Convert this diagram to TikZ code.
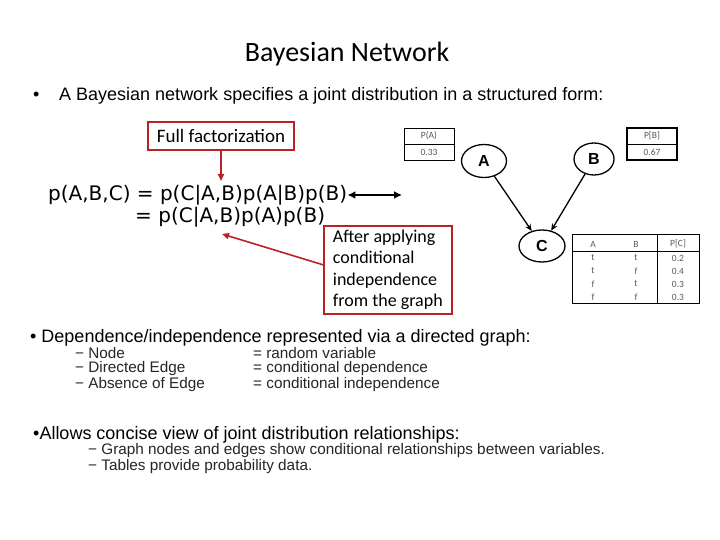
\documentclass[tikz,border=0pt]{standalone}
\usepackage{fontspec}
\setmainfont{Liberation Sans}
\newfontfamily\carl{Carlito}
\newfontfamily\verd{DejaVu Sans}
\usetikzlibrary{arrows.meta,shapes.geometric}
\definecolor{boxred}{RGB}{185,35,40}
\definecolor{tabgray}{RGB}{90,90,90}
\begin{document}
\begin{tikzpicture}[x=1pt,y=-1pt,
  redbox/.style={draw=boxred,line width=1.6pt,inner sep=0pt,font=\carl\fontsize{19}{21.5}\selectfont},
  redarrow/.style={draw=boxred,line width=1.6pt,-{Triangle[length=7pt,width=6pt]}},
  eqtxt/.style={anchor=west,inner sep=0pt,font=\verd\fontsize{20}{22}\selectfont},
  gnode/.style={ellipse,draw,line width=1.3pt,inner sep=0pt,font=\bfseries\fontsize{16}{18}\selectfont},
  garrow/.style={line width=1.3pt,-{Stealth[length=7pt,width=6pt]}},
  tab/.style={draw=black,line width=0.8pt},
  tabtxt/.style={inner sep=0pt,text=tabgray,font=\carl\fontsize{9.5}{10}\selectfont},
  btxt/.style={anchor=west,inner sep=0pt,font=\fontsize{18}{20}\selectfont},
  subtxt/.style={anchor=west,inner sep=0pt,text=black!85,font=\fontsize{15.3}{16}\selectfont}
]
\useasboundingbox (0,0) rectangle (720,540);
\fill[white] (0,0) rectangle (720,540);

% title
\node[inner sep=0pt,font=\carl\fontsize{28}{30}\selectfont] (title) at (347,54) {Bayesian Network};

% first bullet
\node[btxt] (b1dot) at (33,96) {•};
\node[btxt] (b1) at (59,96) {A Bayesian network specifies a joint distribution in a structured form:};

% full factorization
\node[redbox,minimum width=146pt,minimum height=28pt] (ff) at (221,136) {Full factorization};
\coordinate (ffend) at (221,181);
\draw[redarrow] (ff.south) -- (ffend);

% equations
\node[eqtxt] (eq1) at (48,195) {p(A,B,C) = p(C|A,B)p(A|B)p(B)};
\node[eqtxt] (eq2) at (135,217) {= p(C|A,B)p(A)p(B)};
\coordinate (dblend) at (402,195);
\draw[line width=2.6pt,{Latex[length=8pt,width=8pt]}-{Latex[length=8pt,width=8pt]}] (eq1.east) -- (dblend);

% after applying
\node[redbox,anchor=north west,minimum width=128pt,minimum height=88pt,align=left,inner xsep=5pt,font=\carl\fontsize{18}{21.5}\selectfont] (after) at (323,225)
  {After applying\\conditional\\independence\\from the graph};
\coordinate (aftend) at (222,234);
\draw[redarrow] ([yshift=5pt]after.west) -- (aftend);

% P(A) table
\draw[tab] (404,128) rectangle (454,160);
\draw[tab] (404,144) -- (454,144);
\node[tabtxt] (pa) at (429,136) {P(A)};
\node[tabtxt] (pav) at (429,152) {0.33};

% P(B) table
\draw[tab,line width=1.1pt] (627,128) rectangle (677,160);
\draw[tab] (627,144) -- (677,144);
\node[tabtxt] (pb) at (652,136) {P[B]};
\node[tabtxt] (pbv) at (652,152) {0.67};

% graph
\node[gnode,minimum width=45pt,minimum height=33pt] (A) at (484,161) {A};
\node[gnode,minimum width=40pt,minimum height=32pt] (B) at (594,159) {B};
\node[gnode,minimum width=46pt,minimum height=32pt] (C) at (542,246) {C};
\draw[garrow] (A) -- (C);
\draw[garrow] (B) -- (C);

% CPT
\draw[tab] (572,234) rectangle (699,303);
\draw[tab] (572,251) -- (699,251);
\draw[tab] (657,234) -- (657,303);
\node[tabtxt] (ha) at (593,244) {A};
\node[tabtxt] (hb) at (636,244) {B};
\node[tabtxt] (hc) at (678,244) {P[C]};
\node[tabtxt] (r1a) at (593,258) {t};
\node[tabtxt] (r1b) at (636,258) {t};
\node[tabtxt] (r1c) at (678,258) {0.2};
\node[tabtxt] (r2a) at (593,271) {t};
\node[tabtxt] (r2b) at (636,271) {f};
\node[tabtxt] (r2c) at (678,271) {0.4};
\node[tabtxt] (r3a) at (593,284) {f};
\node[tabtxt] (r3b) at (636,284) {t};
\node[tabtxt] (r3c) at (678,284) {0.3};
\node[tabtxt] (r4a) at (593,297) {f};
\node[tabtxt] (r4b) at (636,297) {f};
\node[tabtxt] (r4c) at (678,297) {0.3};

% second bullet
\node[btxt] (b2) at (30,338) {• Dependence/independence represented via a directed graph:};
\node[subtxt] (s1) at (75,353) {− Node};
\node[subtxt] (s2) at (75,369) {− Directed Edge};
\node[subtxt] (s3) at (75,385) {− Absence of Edge};
\node[subtxt] (t1) at (253,353) {= random variable};
\node[subtxt] (t2) at (253,369) {= conditional dependence};
\node[subtxt] (t3) at (253,385) {= conditional independence};

% third bullet
\node[btxt] (b3) at (33,435) {•Allows concise view of joint distribution relationships:};
\node[subtxt] (u1) at (88,451) {− Graph nodes and edges show conditional relationships between variables.};
\node[subtxt] (u2) at (88,467) {− Tables provide probability data.};
\end{tikzpicture}
\end{document}
